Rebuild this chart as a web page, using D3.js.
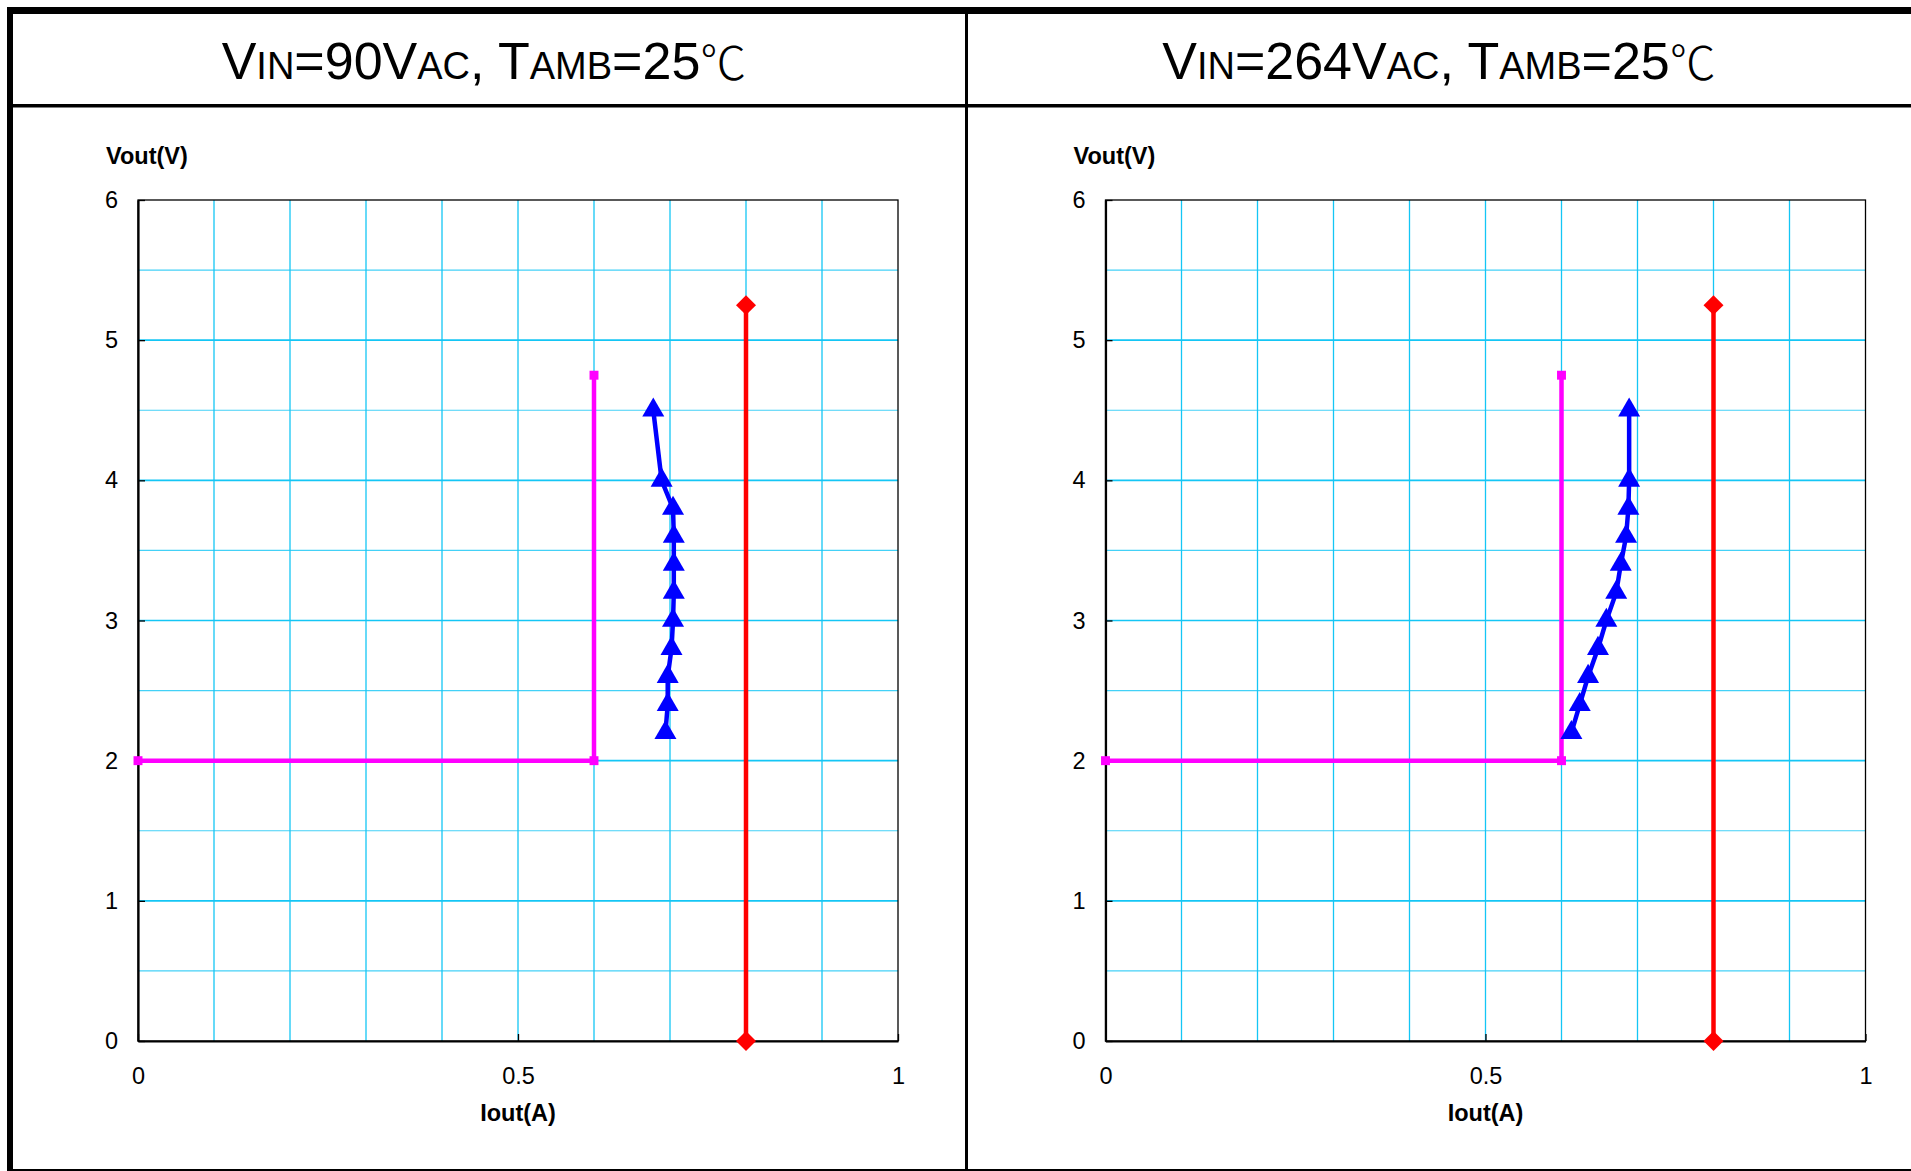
<!DOCTYPE html>
<html>
<head>
<meta charset="utf-8">
<script src="https://cdn.jsdelivr.net/npm/d3@7"></script>
<style>
  html, body { margin: 0; padding: 0; background: #fff; }
  svg { display: block; font-family: "Liberation Sans", Arial, sans-serif; }
</style>
</head>
<body>
<svg id="chart" width="1911" height="1171"></svg>
<script>
// Output voltage steps measured during the constant-current sweep
const voutSteps = [4.5, 4.0, 3.8, 3.6, 3.4, 3.2, 3.0, 2.8, 2.6, 2.4, 2.2];
// Measured output current at each step, per input-voltage condition
const iout90 = [0.678, 0.689, 0.704, 0.705, 0.705, 0.705, 0.704, 0.702, 0.697, 0.697, 0.694];
const iout264 = [0.689, 0.689, 0.688, 0.685, 0.678, 0.672, 0.659, 0.648, 0.635, 0.624, 0.613];
// Lower limit envelope (magenta)
const lowerLimitI = [0, 0.6, 0.6];
const lowerLimitV = [2, 2, 4.75];
// Upper limit line (red)
const upperLimitI = [0.8, 0.8];
const upperLimitV = [5.25, 0];
// Axis ticks
const xTickValues = [0, 0.5, 1];
const xTickLabels = ["0", "0.5", "1"];
const yTickValues = [0, 1, 2, 3, 4, 5, 6];
const yTickLabels = ["0", "1", "2", "3", "4", "5", "6"];
const xGridValues = [0.1, 0.2, 0.3, 0.4, 0.5, 0.6, 0.7, 0.8, 0.9];
const yGridValues = [0.5, 1, 1.5, 2, 2.5, 3, 3.5, 4, 4.5, 5, 5.5];

const panels = [
  { vin: "90", iout: iout90, left: 138, titleCx: 484 },
  { vin: "264", iout: iout264, left: 1105.5, titleCx: 1439 }
];

const svg = d3.select("#chart");
const plotTop = 200, plotBottom = 1041, plotW = 760;
const gridColor = "#14c6f5";

// Frame: outer border, title separator, panel divider
svg.append("rect").attr("x", 7).attr("y", 7).attr("width", 1911).attr("height", 7).attr("fill", "#000");
svg.append("rect").attr("x", 7).attr("y", 7).attr("width", 6).attr("height", 1171).attr("fill", "#000");
svg.append("rect").attr("x", 7).attr("y", 104).attr("width", 1911).attr("height", 3.5).attr("fill", "#000");
svg.append("rect").attr("x", 965).attr("y", 7).attr("width", 3).attr("height", 1171).attr("fill", "#000");
svg.append("rect").attr("x", 7).attr("y", 1169).attr("width", 1911).attr("height", 2).attr("fill", "#000");

panels.forEach(p => {
  const x = d3.scaleLinear().domain([0, 1]).range([p.left, p.left + plotW]);
  const y = d3.scaleLinear().domain([0, 6]).range([plotBottom, plotTop]);
  const g = svg.append("g");

  // Title with small-caps style subscripts
  const big = 52, small = 38;
  const t = g.append("text")
    .attr("x", p.titleCx).attr("y", 79)
    .attr("text-anchor", "middle")
    .attr("font-size", big).attr("fill", "#000");
  t.append("tspan").text("V");
  t.append("tspan").attr("font-size", small).text("IN");
  t.append("tspan").text("=" + p.vin + "V");
  t.append("tspan").attr("font-size", small).text("AC");
  t.append("tspan").text(", T");
  t.append("tspan").attr("font-size", small).text("AMB");
  t.append("tspan").text("=25");
  t.append("tspan").attr("font-family", "'Noto Sans CJK JP', sans-serif")
    .attr("font-weight", 300).attr("font-size", 46).text("℃");

  // Gridlines
  g.append("g").selectAll("line").data(xGridValues).join("line")
    .attr("x1", d => x(d)).attr("x2", d => x(d))
    .attr("y1", plotTop).attr("y2", plotBottom)
    .attr("stroke", gridColor).attr("stroke-width", 1.3);
  g.append("g").selectAll("line").data(yGridValues).join("line")
    .attr("x1", x(0)).attr("x2", x(1))
    .attr("y1", d => y(d)).attr("y2", d => y(d))
    .attr("stroke", gridColor).attr("stroke-width", d => Number.isInteger(d) ? 1.6 : 1.2)
    .attr("stroke-opacity", d => Number.isInteger(d) ? 1 : 0.8);

  // Plot area border
  g.append("rect").attr("x", x(0)).attr("y", plotTop)
    .attr("width", plotW).attr("height", plotBottom - plotTop)
    .attr("fill", "none").attr("stroke", "#000").attr("stroke-width", 1.3);

  // Axes
  const xAxis = d3.axisBottom(x).tickValues(xTickValues)
    .tickFormat((d, i) => xTickLabels[i]).tickSizeInner(-7).tickSizeOuter(0).tickPadding(26);
  const yAxis = d3.axisLeft(y).tickValues(yTickValues)
    .tickFormat((d, i) => yTickLabels[i]).tickSizeInner(-7).tickSizeOuter(0).tickPadding(20);
  const gx = g.append("g").attr("transform", `translate(0,${plotBottom})`).call(xAxis);
  const gy = g.append("g").attr("transform", `translate(${x(0)},0)`).call(yAxis);
  [gx, gy].forEach(a => {
    a.select(".domain").attr("stroke", "#000").attr("stroke-width", 2.2);
    a.selectAll(".tick line").attr("stroke", "#000").attr("stroke-width", 1.3);
    a.selectAll(".tick text").attr("font-size", 23.5).attr("fill", "#000")
      .attr("font-family", "'Liberation Sans', Arial, sans-serif");
  });

  // Axis titles
  g.append("text").attr("x", x(0) - 32).attr("y", 164)
    .attr("font-size", 23.5).attr("font-weight", "bold").text("Vout(V)");
  g.append("text").attr("x", x(0.5)).attr("y", 1121).attr("text-anchor", "middle")
    .attr("font-size", 23.5).attr("font-weight", "bold").text("Iout(A)");

  const line = d3.line().x(d => x(d[0])).y(d => y(d[1]));

  // Lower limit (magenta) with square markers
  const lower = lowerLimitI.map((d, i) => [d, lowerLimitV[i]]);
  g.append("path").datum(lower).attr("d", line)
    .attr("fill", "none").attr("stroke", "#ff00ff").attr("stroke-width", 4.5);
  g.append("g").selectAll("path").data(lower).join("path")
    .attr("transform", d => `translate(${x(d[0])},${y(d[1])})`)
    .attr("d", d3.symbol(d3.symbolSquare, 80)).attr("fill", "#ff00ff");

  // Upper limit (red) with diamond markers
  const upper = upperLimitI.map((d, i) => [d, upperLimitV[i]]);
  g.append("path").datum(upper).attr("d", line)
    .attr("fill", "none").attr("stroke", "#ff0000").attr("stroke-width", 4.5);
  g.append("g").selectAll("path").data(upper).join("path")
    .attr("transform", d => `translate(${x(d[0])},${y(d[1])}) rotate(45)`)
    .attr("d", d3.symbol(d3.symbolSquare, 200)).attr("fill", "#ff0000");

  // Measured CC curve (blue) with triangle markers
  const meas = p.iout.map((d, i) => [d, voutSteps[i]]);
  g.append("path").datum(meas).attr("d", line)
    .attr("fill", "none").attr("stroke", "#0000ff").attr("stroke-width", 4.5);
  g.append("g").selectAll("path").data(meas).join("path")
    .attr("transform", d => `translate(${x(d[0])},${y(d[1])})`)
    .attr("d", d3.symbol(d3.symbolTriangle, 210)).attr("fill", "#0000ff");
});
</script>
</body>
</html>
